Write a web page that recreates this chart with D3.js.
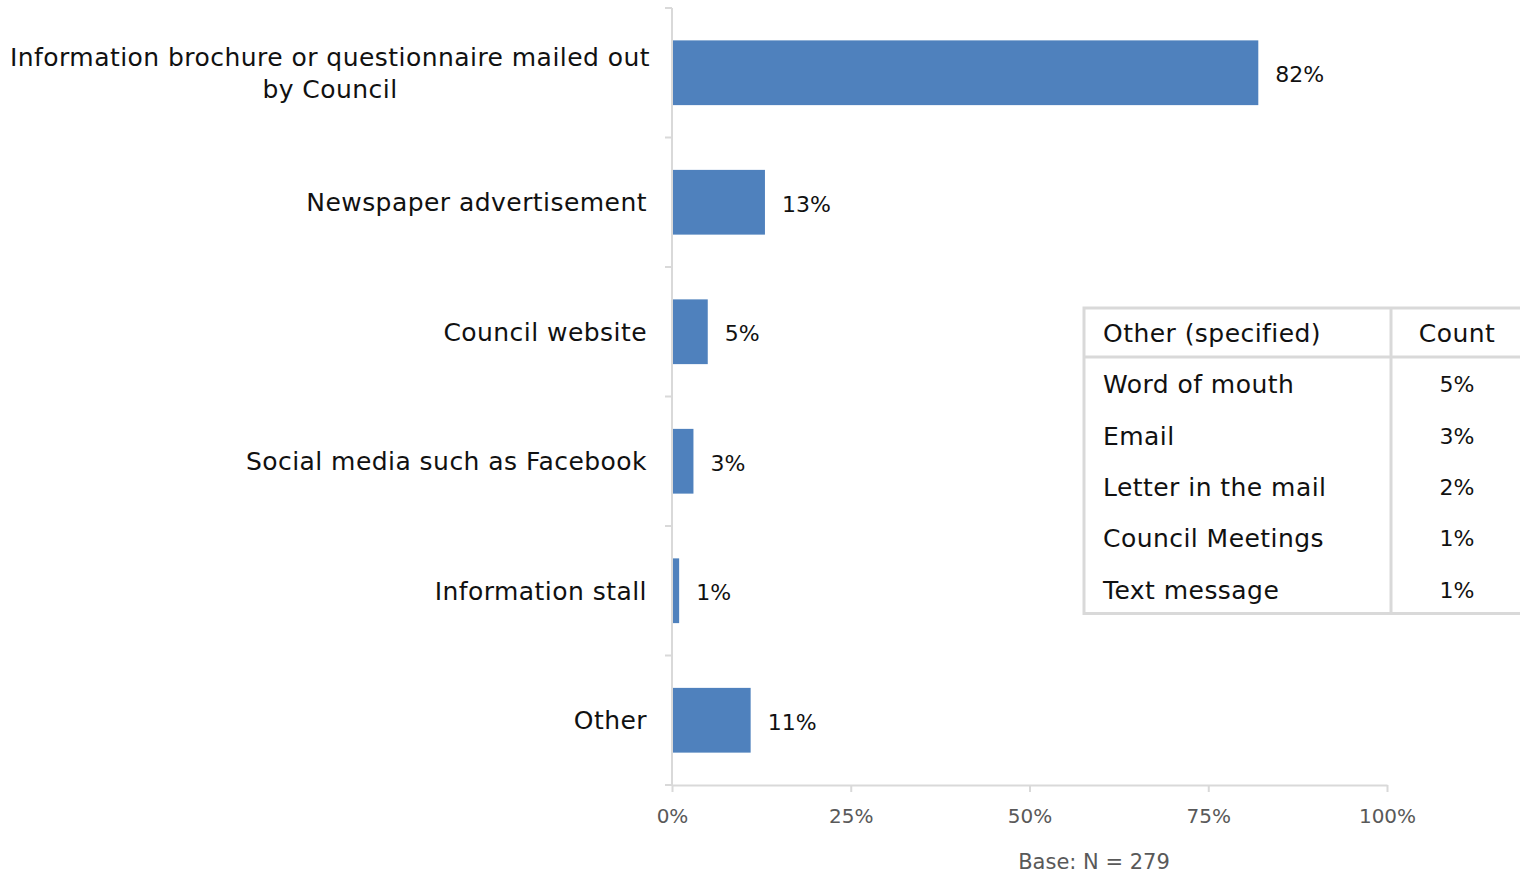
<!DOCTYPE html>
<html>
<head>
<meta charset="utf-8">
<script src="https://cdn.jsdelivr.net/npm/d3@7"></script>
<style>
  html, body { margin: 0; padding: 0; background: #fff; }
  svg { display: block; font-family: "DejaVu Sans", sans-serif; }
</style>
</head>
<body>
<svg id="chart" width="1520" height="873"></svg>
<script>
// Sources of information (percent of respondents)
const categories = [
  ["Information brochure or questionnaire mailed out", "by Council"],
  ["Newspaper advertisement"],
  ["Council website"],
  ["Social media such as Facebook"],
  ["Information stall"],
  ["Other"]
];
const values = [82, 13, 5, 3, 1, 11];
const xTicks = [0, 25, 50, 75, 100];

// Breakdown of "Other" responses
const otherHeader = ["Other (specified)", "Count"];
const otherLabels = ["Word of mouth", "Email", "Letter in the mail", "Council Meetings", "Text message"];
const otherValues = [5, 3, 2, 1, 1];

const baseNote = "Base: N = 279";

const svg = d3.select("#chart");
const plotLeft = 672, plotRight = 1387, plotTop = 8, plotBottom = 785;

const x = d3.scaleLinear().domain([0, 100]).range([plotLeft, plotRight]);
const y = d3.scaleBand().domain(d3.range(categories.length)).range([plotTop, plotBottom]).paddingInner(0.5).paddingOuter(0.25);

const gridColor = "#d9d9d9";
const labelFont = "25px";
const labelSpacing = "0.45px";

// x axis
const xAxis = svg.append("g")
  .attr("transform", `translate(0,${plotBottom})`)
  .call(d3.axisBottom(x).tickValues(xTicks).tickFormat(d => d + "%").tickSize(7).tickPadding(17).tickSizeOuter(0));
xAxis.select(".domain").attr("stroke", gridColor).attr("stroke-width", 2);
xAxis.selectAll(".tick line").attr("stroke", gridColor).attr("stroke-width", 2);
xAxis.selectAll(".tick text")
  .attr("fill", "#595959")
  .style("font-size", "20px")
  .style("font-family", "'DejaVu Sans', sans-serif");

// y axis line with ticks at category boundaries
const yLine = svg.append("g");
yLine.append("line")
  .attr("x1", plotLeft).attr("x2", plotLeft).attr("y1", plotTop).attr("y2", plotBottom)
  .attr("stroke", gridColor).attr("stroke-width", 2);
const bounds = d3.range(categories.length + 1).map(i => plotTop + i * (plotBottom - plotTop) / categories.length);
yLine.selectAll("line.tk").data(bounds).join("line")
  .attr("class", "tk")
  .attr("x1", plotLeft - 7).attr("x2", plotLeft)
  .attr("y1", d => d).attr("y2", d => d)
  .attr("stroke", gridColor).attr("stroke-width", 2);

// bars
svg.append("g").selectAll("rect").data(values).join("rect")
  .attr("x", x(0) + 1)
  .attr("y", (d, i) => y(i))
  .attr("width", d => x(d) - x(0) - 1)
  .attr("height", y.bandwidth())
  .attr("fill", "#4f81bd");

// value labels
svg.append("g").selectAll("text").data(values).join("text")
  .attr("x", d => x(d) + 17)
  .attr("y", (d, i) => y(i) + y.bandwidth() / 2 + 2)
  .attr("dy", "0.35em")
  .attr("fill", "#111")
  .style("font-size", "22px")
  .text(d => d + "%");

// category labels
const catG = svg.append("g");
categories.forEach((lines, i) => {
  const cy = y(i) + y.bandwidth() / 2;
  const lh = 32;
  const t = catG.append("text")
    .attr("text-anchor", lines.length > 1 ? "middle" : "end")
    .attr("fill", "#111")
    .style("font-size", labelFont)
    .style("letter-spacing", labelSpacing);
  lines.forEach((ln, j) => {
    t.append("tspan")
      .attr("x", lines.length > 1 ? 330 : 647)
      .attr("y", cy + (j - (lines.length - 1) / 2) * lh)
      .attr("dy", "0.35em")
      .text(ln);
  });
});

// base note
svg.append("text")
  .attr("x", 1094).attr("y", 869)
  .attr("text-anchor", "middle")
  .attr("fill", "#595959")
  .style("font-size", "21px")
  .text(baseNote);

// "Other" breakdown table
const tb = { x0: 1084, x1: 1391, x2: 1522, y0: 308, header: 49, row: 51.3 };
const tg = svg.append("g");
const tableBottom = tb.y0 + tb.header + tb.row * otherLabels.length;
tg.append("rect")
  .attr("x", tb.x0).attr("y", tb.y0)
  .attr("width", tb.x2 - tb.x0).attr("height", tableBottom - tb.y0)
  .attr("fill", "#fff").attr("stroke", gridColor).attr("stroke-width", 3);
tg.append("line")
  .attr("x1", tb.x0).attr("x2", tb.x2)
  .attr("y1", tb.y0 + tb.header).attr("y2", tb.y0 + tb.header)
  .attr("stroke", gridColor).attr("stroke-width", 3);
tg.append("line")
  .attr("x1", tb.x1).attr("x2", tb.x1)
  .attr("y1", tb.y0).attr("y2", tableBottom)
  .attr("stroke", gridColor).attr("stroke-width", 3);

const cntX = 1457;
const cellText = (sel) => sel.attr("fill", "#111").style("font-size", labelFont).style("letter-spacing", labelSpacing);
tg.append("text").attr("x", 1103).attr("y", tb.y0 + tb.header / 2 + 1).attr("dy", "0.35em")
  .call(cellText).text(otherHeader[0]);
tg.append("text").attr("x", cntX).attr("y", tb.y0 + tb.header / 2 + 1).attr("dy", "0.35em")
  .attr("text-anchor", "middle")
  .call(cellText).text(otherHeader[1]);

otherLabels.forEach((lab, i) => {
  const cy = tb.y0 + tb.header + tb.row * (i + 0.5) + 2;
  tg.append("text").attr("x", 1103).attr("y", cy).attr("dy", "0.35em")
    .call(cellText).text(lab);
  tg.append("text").attr("x", cntX).attr("y", cy).attr("dy", "0.35em")
    .attr("text-anchor", "middle")
    .attr("fill", "#111").style("font-size", "22px").text(otherValues[i] + "%");
});
</script>
</body>
</html>
